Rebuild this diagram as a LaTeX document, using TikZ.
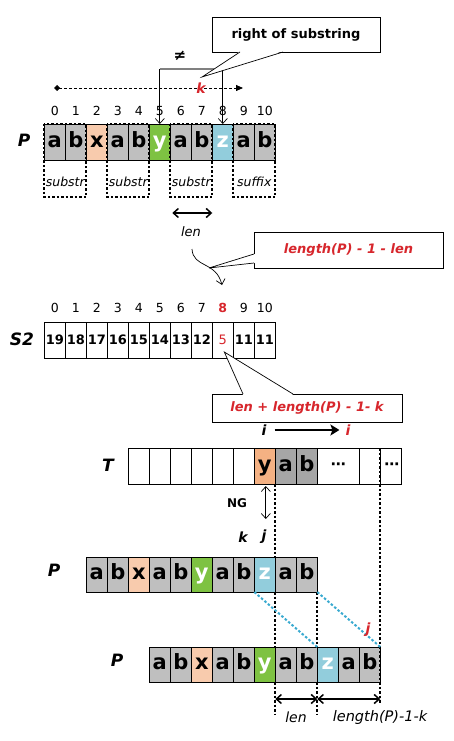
\documentclass[tikz,border=0pt]{standalone}
\usepackage{fontspec}
\setmainfont{DejaVu Sans}[BoldFont={DejaVu Sans Bold},ItalicFont={DejaVu Sans Oblique},BoldItalicFont={DejaVu Sans Bold Oblique}]
\usetikzlibrary{arrows.meta,calc}
\definecolor{cgray}{HTML}{BFBFBF}
\definecolor{cdgray}{HTML}{A6A6A6}
\definecolor{cpeach}{HTML}{F8CBAD}
\definecolor{corange}{HTML}{F4B183}
\definecolor{cgreen}{HTML}{7EC242}
\definecolor{cblue}{HTML}{92CDDC}
\definecolor{cred}{HTML}{D7262C}
\definecolor{cbdot}{HTML}{3AAAD0}
\definecolor{cbar}{HTML}{808080}
\begin{document}
\begin{tikzpicture}[x=1pt,y=-1pt,
  cell/.style={draw=black, line width=0.7pt, minimum width=21pt, minimum height=36pt, inner sep=0pt, outer sep=0pt, font=\fontsize{21}{21}\selectfont\bfseries, text height=16pt, text depth=5.5pt},
  numcell/.style={draw=black, line width=0.7pt, minimum width=21pt, minimum height=36pt, inner sep=0pt, outer sep=0pt, font=\fontsize{13}{13}\selectfont\bfseries},
  idx/.style={font=\fontsize{12.5}{12.5}\selectfont, inner sep=0pt},
  lbl/.style={font=\fontsize{17}{17}\selectfont\bfseries\itshape, inner sep=0pt},
  small/.style={font=\fontsize{12.5}{12.5}\selectfont\itshape, inner sep=0pt},
  dotbox/.style={draw=black, line width=2pt, dash pattern=on 2.5pt off 2pt},
  vdot/.style={draw=black, line width=2pt, dash pattern=on 2.5pt off 2pt},
  bdot/.style={draw=cbdot, line width=2pt, dash pattern=on 2.5pt off 2pt},
  note/.style={draw=black, line width=0.7pt, fill=white, inner sep=0pt, outer sep=0pt},
  notetext/.style={font=\fontsize{13}{13}\selectfont\bfseries\itshape, text=cred},
  barbs/.style={line width=0.7pt},
  dots/.style={font=\fontsize{15}{15}\selectfont\bfseries},
  thickarr/.style={line width=1.5pt, {Straight Barb[length=5pt,width=9pt]}-{Straight Barb[length=5pt,width=9pt]}}
]
\useasboundingbox (0,0) rectangle (453,741);

% ---------- top P ----------
\foreach \ch/\fc/\tc [count=\i from 0] in {a/cgray/black,b/cgray/black,x/cpeach/black,a/cgray/black,b/cgray/black,y/cgreen/white,a/cgray/black,b/cgray/black,z/cblue/white,a/cgray/black,b/cgray/black}
  \node[cell, fill=\fc, text=\tc] (p\i) at ({54.8+21*\i},142) {\ch};
\foreach \i in {0,...,10}
  \node[idx] (pidx\i) at ($(p\i.north)+(0,-13)$) {\i};
\node[lbl] (plab) at (24,140) {P};

\foreach \a/\b/\t in {0/1/substr,3/4/substr,6/7/substr,9/10/suffix}{
  \draw[dotbox] (p\a.north west) rectangle ($(p\b.south east)+(0,37)$);
  \node[small] (sub\a) at ($(p\a.south east)+(0,22)$) {\t};
}

% dashed k line
\coordinate (kstart) at (54,88);
\coordinate (kend) at (243,88);
\draw[line width=0.8pt, dash pattern=on 3pt off 2pt, {Diamond[length=6pt,width=6pt]}-{Triangle[length=7pt,width=6pt]}] (kstart) -- (kend);
\node[font=\fontsize{14}{14}\selectfont\bfseries\itshape, text=cred, inner sep=0pt] (klab) at (201,88) {k};

% bracket
\coordinate (brA) at ($(p5.north)+(0,-55)$);
\coordinate (brB) at ($(p8.north)+(0,-55)$);
\draw[barbs, -{Straight Barb[length=5pt,width=9pt]}] (brA) -- (p5.north);
\draw[barbs, -{Straight Barb[length=5pt,width=9pt]}] (brB) -- (p8.north);
\draw[draw=cbar, line width=2pt] (brA) -- (brB);
\node[font=\fontsize{15}{15}\selectfont\bfseries, inner sep=0pt] (neq) at (180,56) {≠};

% callout 1
\node[note, minimum width=168pt, minimum height=35pt] (c1) at (296,34.5) {};
\node[font=\fontsize{13}{13}\selectfont\bfseries, inner sep=0pt] (c1t) at (c1.center) {right of substring};
\coordinate (c1tip) at (202,77);
\fill[white] ($(c1.south west)+(28,-0.8)$) -- (c1tip) -- ($(c1.south west)+(71,-0.8)$) -- cycle;
\draw[line width=0.7pt, line join=miter] ($(c1.south west)+(28,0)$) -- (c1tip) -- ($(c1.south west)+(71,0)$);

% top len arrow
\coordinate (la) at ($(p6.south west)+(2,53)$);
\coordinate (lb) at ($(p7.south east)+(0,53)$);
\draw[thickarr] (la) -- (lb);
\node[font=\fontsize{13}{13}\selectfont\itshape, inner sep=0pt] (lenlab) at (191,232) {len};

% callout 2
\node[note, minimum width=189pt, minimum height=36pt] (c2) at (348.5,250) {};
\node[notetext, inner sep=0pt] (c2t) at (c2.center) {length(P) - 1 - len};
\coordinate (c2tip) at (209,268);
\fill[white] ($(c2.north west)+(0.8,22)$) -- (c2tip) -- ($(c2.north west)+(0.8,31)$) -- cycle;
\draw[line width=0.7pt, line join=miter] ($(c2.north west)+(0,22)$) -- (c2tip) -- ($(c2.north west)+(0,31)$);

% curved arrow
\coordinate (cvs) at (192,249);
\coordinate (cve) at (222,285);
\draw[barbs, -{Straight Barb[length=5pt,width=9pt]}] (cvs) .. controls (193,268) and (216,261) .. (cve);

% ---------- S2 ----------
\foreach \v [count=\i from 0] in {19,18,17,16,15,14,13,12,{\mdseries\color{cred}5},11,11}
  \node[numcell] (s\i) at ({54.8+21*\i},340) {\v};
\foreach \i in {0,...,7,9,10}
  \node[idx] (sidx\i) at ($(s\i.north)+(0,-14)$) {\i};
\node[idx, text=cred, font=\fontsize{12.5}{12.5}\selectfont\bfseries] (sidx8) at ($(s8.north)+(0,-14)$) {8};
\node[lbl] (s2lab) at (22,339) {S2};

% callout 3
\node[note, minimum width=190pt, minimum height=28pt] (c3) at (307,408) {};
\node[notetext, inner sep=0pt] (c3t) at (c3.center) {len + length(P) - 1- k};
\coordinate (c3tip) at ($(s8.center)+(1.5,12)$);
\fill[white] ($(c3.north west)+(31,0.8)$) -- (c3tip) -- ($(c3.north west)+(81,0.8)$) -- cycle;
\draw[line width=0.7pt, line join=miter] ($(c3.north west)+(31,0)$) -- (c3tip) -- ($(c3.north west)+(81,0)$);

% i -> i
\node[font=\fontsize{14}{14}\selectfont\bfseries\itshape, inner sep=0pt] (ia) at (264,430) {i};
\node[font=\fontsize{14}{14}\selectfont\bfseries\itshape, text=cred, inner sep=0pt] (ib) at (348,430) {i};
\draw[line width=2.5pt, -{Stealth[length=9pt,width=11pt,inset=2pt]}, shorten <=8pt, shorten >=6pt] (ia) -- (ib);

% ---------- T ----------
\foreach \ch/\fc [count=\i from 0] in {{}/white,{}/white,{}/white,{}/white,{}/white,{}/white,y/corange,a/cdgray,b/cdgray}
  \node[cell, fill=\fc] (t\i) at ({128.3+10.5+21*\i},466) {\ch};
\node[cell, fill=white, minimum width=42pt] (t9) at (338.3,466) {};
\node[cell, fill=white] (t10) at (369.8,466) {};
\node[cell, fill=white] (t11) at (390.8,466) {};
\node[dots] (t9d) at (t9.center) {⋯};
\node[dots] (t11d) at ($(t11.center)+(1,0)$) {⋯};
\node[lbl] (tlab) at (108,465) {T};

% NG
\coordinate (ngA) at ($(t6.south)+(1,2)$);
\coordinate (ngB) at ($(t6.south)+(1,35)$);
\draw[barbs, {Straight Barb[length=5pt,width=9pt]}-{Straight Barb[length=5pt,width=9pt]}] (ngA) -- (ngB);
\node[font=\fontsize{12}{12}\selectfont\bfseries, inner sep=0pt] (nglab) at (237,503) {NG};
\node[font=\fontsize{14}{14}\selectfont\bfseries\itshape, inner sep=0pt] (klab2) at (243,537) {k};
\node[font=\fontsize{14}{14}\selectfont\bfseries\itshape, inner sep=0pt] (jlab) at (264,537) {j};

% ---------- middle P ----------
\foreach \ch/\fc/\tc [count=\i from 0] in {a/cgray/black,b/cgray/black,x/cpeach/black,a/cgray/black,b/cgray/black,y/cgreen/white,a/cgray/black,b/cgray/black,z/cblue/white,a/cgray/black,b/cgray/black}
  \node[cell, minimum height=35pt, fill=\fc, text=\tc] (m\i) at ({86.3+10.5+21*\i},574.5) {\ch};
\node[lbl] (mlab) at (54,570) {P};

% ---------- bottom P ----------
\foreach \ch/\fc/\tc [count=\i from 0] in {a/cgray/black,b/cgray/black,x/cpeach/black,a/cgray/black,b/cgray/black,y/cgreen/white,a/cgray/black,b/cgray/black,z/cblue/white,a/cgray/black,b/cgray/black}
  \node[cell, minimum height=35pt, fill=\fc, text=\tc] (b\i) at ({149.3+10.5+21*\i},664.5) {\ch};
\node[lbl] (blab) at (117,660) {P};

% dotted verticals
\coordinate (lend) at ($(b5.south east)+(0,33)$);
\coordinate (mend) at ($(b7.south east)+(0,33)$);
\coordinate (rend) at ($(b10.south east)+(0,21)$);
\draw[vdot] (t6.south east) -- (m8.north east);
\draw[vdot] (m8.south east) -- (b5.north east);
\draw[vdot] (b5.south east) -- (lend);
\draw[vdot] (m10.south east) -- (b7.north east);
\draw[vdot] (b7.south east) -- (mend);
\draw[vdot] (t10.north east) -- (rend);

% blue dotted
\draw[bdot] (m8.south west) -- (b8.north west);
\draw[bdot] (m10.south east) -- (b10.north east);
\node[font=\fontsize{14}{14}\selectfont\bfseries\itshape, text=cred, inner sep=0pt] (jred) at (368,630) {j};

% bottom arrows
\coordinate (ba1) at ($(b5.south east)+(0,17)$);
\coordinate (ba2) at ($(b7.south east)+(0,17)$);
\coordinate (ba3) at ($(b10.south east)+(0,17)$);
\draw[thickarr] (ba1) -- (ba2);
\draw[thickarr] (ba2) -- (ba3);
\node[font=\fontsize{14}{14}\selectfont\itshape, inner sep=0pt] (blen) at (296,717) {len};
\node[font=\fontsize{14.5}{14.5}\selectfont\itshape, inner sep=0pt] (blen2) at (380,717) {length(P)-1-k};
\end{tikzpicture}
\end{document}
